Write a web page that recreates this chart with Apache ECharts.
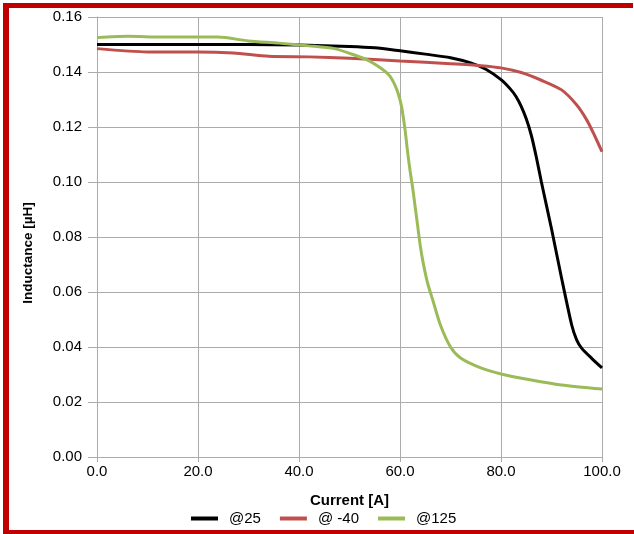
<!DOCTYPE html>
<html>
<head>
<meta charset="utf-8">
<script src="https://cdn.jsdelivr.net/npm/echarts@6/dist/echarts.min.js"></script>
<style>
html,body{margin:0;padding:0;background:#fff;}
#chart{width:634px;height:534px;}
</style>
</head>
<body>
<div id="chart"></div>
<script>
// Tick values
var xTicks = [0, 20, 40, 60, 80, 100];
var yTicks = [0, 0.02, 0.04, 0.06, 0.08, 0.10, 0.12, 0.14, 0.16];

// @25
var current25 = [0, 10, 20, 30, 40, 50, 55, 60, 65, 70, 74, 77, 80, 82, 83, 84, 85, 86, 87, 88, 89, 90, 92, 94, 95, 96, 98, 100];
var induct25  = [0.150, 0.150, 0.150, 0.150, 0.1498, 0.1493, 0.1488, 0.1477, 0.1465, 0.1452, 0.1433, 0.141, 0.1372, 0.1335, 0.131, 0.1275, 0.123, 0.117, 0.109, 0.100, 0.0915, 0.083, 0.065, 0.048, 0.0425, 0.0395, 0.0358, 0.0324];

// @ -40
var currentM40 = [0, 10, 20, 27, 34, 42, 50, 60, 70, 76, 80, 84, 88, 92, 95, 97, 98.5, 100];
var inductM40  = [0.1485, 0.1473, 0.1473, 0.1469, 0.1457, 0.1455, 0.145, 0.144, 0.143, 0.1423, 0.1415, 0.1398, 0.137, 0.1335, 0.128, 0.1225, 0.117, 0.111];

// @125
var current125 = [0, 6, 13, 24, 30, 36, 42, 47, 50, 53.5, 56.5, 58, 59, 59.7, 60.3, 61, 61.5, 62, 62.5, 63, 63.5, 64, 64.6, 65.5, 66.5, 68, 70, 72, 76, 80, 86, 92, 100];
var induct125  = [0.1525, 0.153, 0.1527, 0.1527, 0.1513, 0.1505, 0.1495, 0.1485, 0.1468, 0.1444, 0.141, 0.1385, 0.1352, 0.1318, 0.1275, 0.119, 0.111, 0.104, 0.098, 0.091, 0.084, 0.077, 0.0705, 0.063, 0.057, 0.048, 0.040, 0.036, 0.0324, 0.0302, 0.028, 0.0262, 0.0247];

var seriesNames = ['@25', '@ -40', '@125'];
var seriesColors = ['#000000', '#C0504D', '#9BBB59'];

function pairs(xs, ys) { return xs.map(function (x, i) { return [x, ys[i]]; }); }

var chart = echarts.init(document.getElementById('chart'), null, {renderer: 'canvas'});
var FONT = '"Liberation Sans", Arial, sans-serif';
var gridColor = '#ababab';

function mkSeries(name, color, data) {
  return {
    name: name, type: 'line', data: data, showSymbol: false, symbol: 'none',
    smooth: 0.25,
    lineStyle: {color: color, width: 3}, itemStyle: {color: color}
  };
}

chart.setOption({
  animation: false,
  backgroundColor: '#ffffff',
  textStyle: {fontFamily: FONT},
  grid: {left: 97, right: 32, top: 17, bottom: 77, containLabel: false},
  xAxis: {
    type: 'value', min: xTicks[0], max: xTicks[xTicks.length - 1], interval: 20,
    name: 'Current [A]', nameLocation: 'middle', nameGap: 36,
    nameTextStyle: {fontFamily: FONT, fontSize: 15, fontWeight: 'bold', color: '#000'},
    axisLine: {show: true, lineStyle: {color: gridColor, width: 1}},
    axisTick: {show: true, length: 5, lineStyle: {color: gridColor}},
    axisLabel: {fontFamily: FONT, fontSize: 15, color: '#000', margin: 7,
      formatter: function (v) { return v.toFixed(1); }},
    splitLine: {show: true, lineStyle: {color: gridColor, width: 1}}
  },
  yAxis: {
    type: 'value', min: yTicks[0], max: yTicks[yTicks.length - 1], interval: 0.02,
    name: 'Inductance [µH]', nameLocation: 'middle', nameGap: 62,
    nameTextStyle: {fontFamily: FONT, fontSize: 13.5, fontWeight: 'bold', color: '#000', padding: [0, 32, 0, 0]},
    axisLine: {show: true, lineStyle: {color: gridColor, width: 1}},
    axisTick: {show: true, length: 9, lineStyle: {color: gridColor}},
    axisLabel: {fontFamily: FONT, fontSize: 15, color: '#000', margin: 15,
      formatter: function (v) { return v.toFixed(2); }},
    splitLine: {show: true, lineStyle: {color: gridColor, width: 1}}
  },
  legend: {
    top: 506, left: 186,
    itemWidth: 27, itemHeight: 4, itemGap: 19, icon: 'rect',
    textStyle: {fontFamily: FONT, fontSize: 15, color: '#000', padding: [0, 0, 0, 6]},
    data: seriesNames
  },
  graphic: [
    {type: 'rect', left: 3, top: 3, shape: {width: 6, height: 531}, style: {fill: '#C00000'}, z: 100},
    {type: 'rect', left: 3, top: 3, shape: {width: 630, height: 5}, style: {fill: '#C00000'}, z: 100},
    {type: 'rect', left: 3, top: 530, shape: {width: 631, height: 4}, style: {fill: '#C00000'}, z: 100}
  ],
  series: [
    mkSeries(seriesNames[0], seriesColors[0], pairs(current25, induct25)),
    mkSeries(seriesNames[1], seriesColors[1], pairs(currentM40, inductM40)),
    mkSeries(seriesNames[2], seriesColors[2], pairs(current125, induct125))
  ]
});
</script>
</body>
</html>
